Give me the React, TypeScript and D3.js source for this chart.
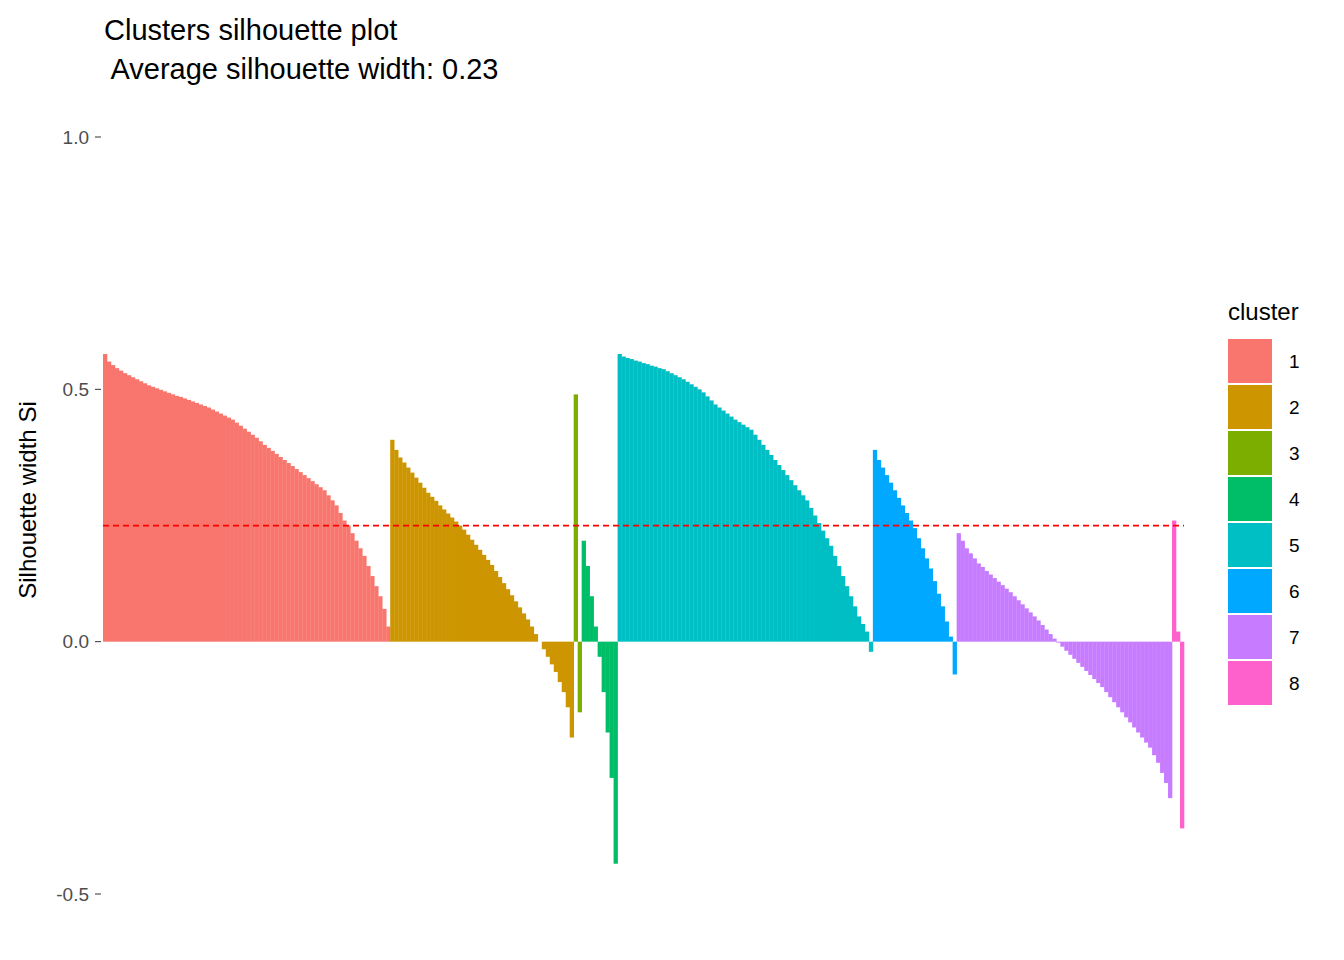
import React from "react";
import * as d3 from "d3";

const clusters = ["1", "2", "3", "4", "5", "6", "7", "8"];
const colors = ["#F8766D", "#CD9600", "#7CAE00", "#00BE67", "#00BFC4", "#00A9FF", "#C77CFF", "#FF61CC"];
const c1 = [.57,.555,.548,.542,.537,.532,.528,.524,.52,.516,.512,.508,.505,.502,.499,.496,.493,.49,.487,.485,.482,.479,.476,.473,.47,.467,.464,.46,.456,.452,.448,.444,.44,.434,.428,.422,.416,.41,.404,.397,.39,.384,.378,.372,.366,.36,.354,.348,.342,.336,.33,.324,.318,.312,.306,.30,.29,.28,.27,.255,.24,.23,.215,.20,.185,.17,.15,.13,.11,.09,.065,.03];
const c2 = [.40,.38,.365,.355,.345,.335,.325,.315,.305,.295,.287,.279,.27,.262,.254,.246,.238,.23,.222,.212,.202,.192,.182,.172,.162,.152,.14,.128,.116,.104,.092,.08,.068,.056,.044,.03,.015,0,-.015,-.03,-.045,-.06,-.08,-.10,-.13,-.19];
const c3 = [.49, -.14];
const c4 = [.20,.15,.09,.03,-.03,-.10,-.18,-.27,-.44];
const c5 = [.57,.565,.562,.56,.557,.555,.552,.55,.547,.545,.542,.54,.536,.532,.528,.524,.52,.515,.51,.505,.50,.494,.486,.478,.47,.464,.458,.452,.446,.44,.435,.43,.425,.42,.41,.40,.39,.38,.37,.36,.35,.34,.33,.32,.31,.30,.29,.28,.265,.25,.235,.22,.205,.19,.17,.15,.13,.11,.09,.07,.05,.035,.02,-.02];
const c6 = [.38,.36,.345,.33,.315,.30,.285,.27,.255,.24,.225,.205,.185,.165,.145,.12,.095,.07,.04,.01,-.065];
const c7 = [.215,.20,.185,.175,.165,.155,.148,.14,.133,.126,.119,.112,.105,.098,.09,.082,.074,.066,.058,.05,.042,.033,.024,.015,.006,-.002,-.01,-.018,-.026,-.034,-.042,-.05,-.058,-.066,-.074,-.082,-.09,-.10,-.11,-.12,-.13,-.14,-.15,-.16,-.17,-.18,-.19,-.20,-.21,-.225,-.24,-.26,-.28,-.31];
const c8 = [.24, .02, -.37];
const clusterValues = [c1, c2, c3, c4, c5, c6, c7, c8];
const yTicks = [-0.5, 0, 0.5, 1.0];
const avgWidth = 0.23;

const bars = clusterValues.flatMap((vals, ci) => vals.map((v) => ({ ci, v })));

export default function App() {
  const x = d3.scaleBand<number>().domain(d3.range(bars.length)).range([103, 1184]).padding(0);
  const y = d3.scaleLinear().domain([-0.5, 1]).range([894, 137]);
  const font = "Liberation Sans, Arial, sans-serif";
  return (
    <svg width={1344} height={960} style={{ position: "absolute", left: 0, top: 0 }} fontFamily={font}>
      <rect width={1344} height={960} fill="#fff" />
      {bars.map((b, i) => (
        <rect key={i} x={x(i)!} width={x.bandwidth() + 0.3}
          y={Math.min(y(b.v), y(0))} height={Math.abs(y(b.v) - y(0))} fill={colors[b.ci]} />
      ))}
      <line x1={103} x2={1184} y1={y(avgWidth)} y2={y(avgWidth)} stroke="#FF0000" strokeWidth={1.6} strokeDasharray="6,4" />
      {yTicks.map((t) => (
        <g key={t}>
          <line x1={95} x2={101} y1={y(t)} y2={y(t)} stroke="#333" strokeWidth={1} />
          <text x={89} y={y(t)} dy="0.35em" textAnchor="end" fontSize={19} fill="#4D4D4D">{t.toFixed(1)}</text>
        </g>
      ))}
      <text transform="translate(36,500) rotate(-90)" textAnchor="middle" fontSize={24} fill="#000">Silhouette width Si</text>
      <text x={104} y={40} fontSize={29} fill="#000">Clusters silhouette plot</text>
      <text x={104} y={79} fontSize={29} fill="#000" xmlSpace="preserve"> Average silhouette width: 0.23</text>
      <text x={1228} y={320} fontSize={24} fill="#000">cluster</text>
      {clusters.map((c, i) => (
        <g key={c}>
          <rect x={1228} y={339 + i * 46} width={44} height={44} fill={colors[i]} />
          <text x={1289} y={339 + i * 46 + 22} dy="0.35em" fontSize={19} fill="#000">{c}</text>
        </g>
      ))}
    </svg>
  );
}
